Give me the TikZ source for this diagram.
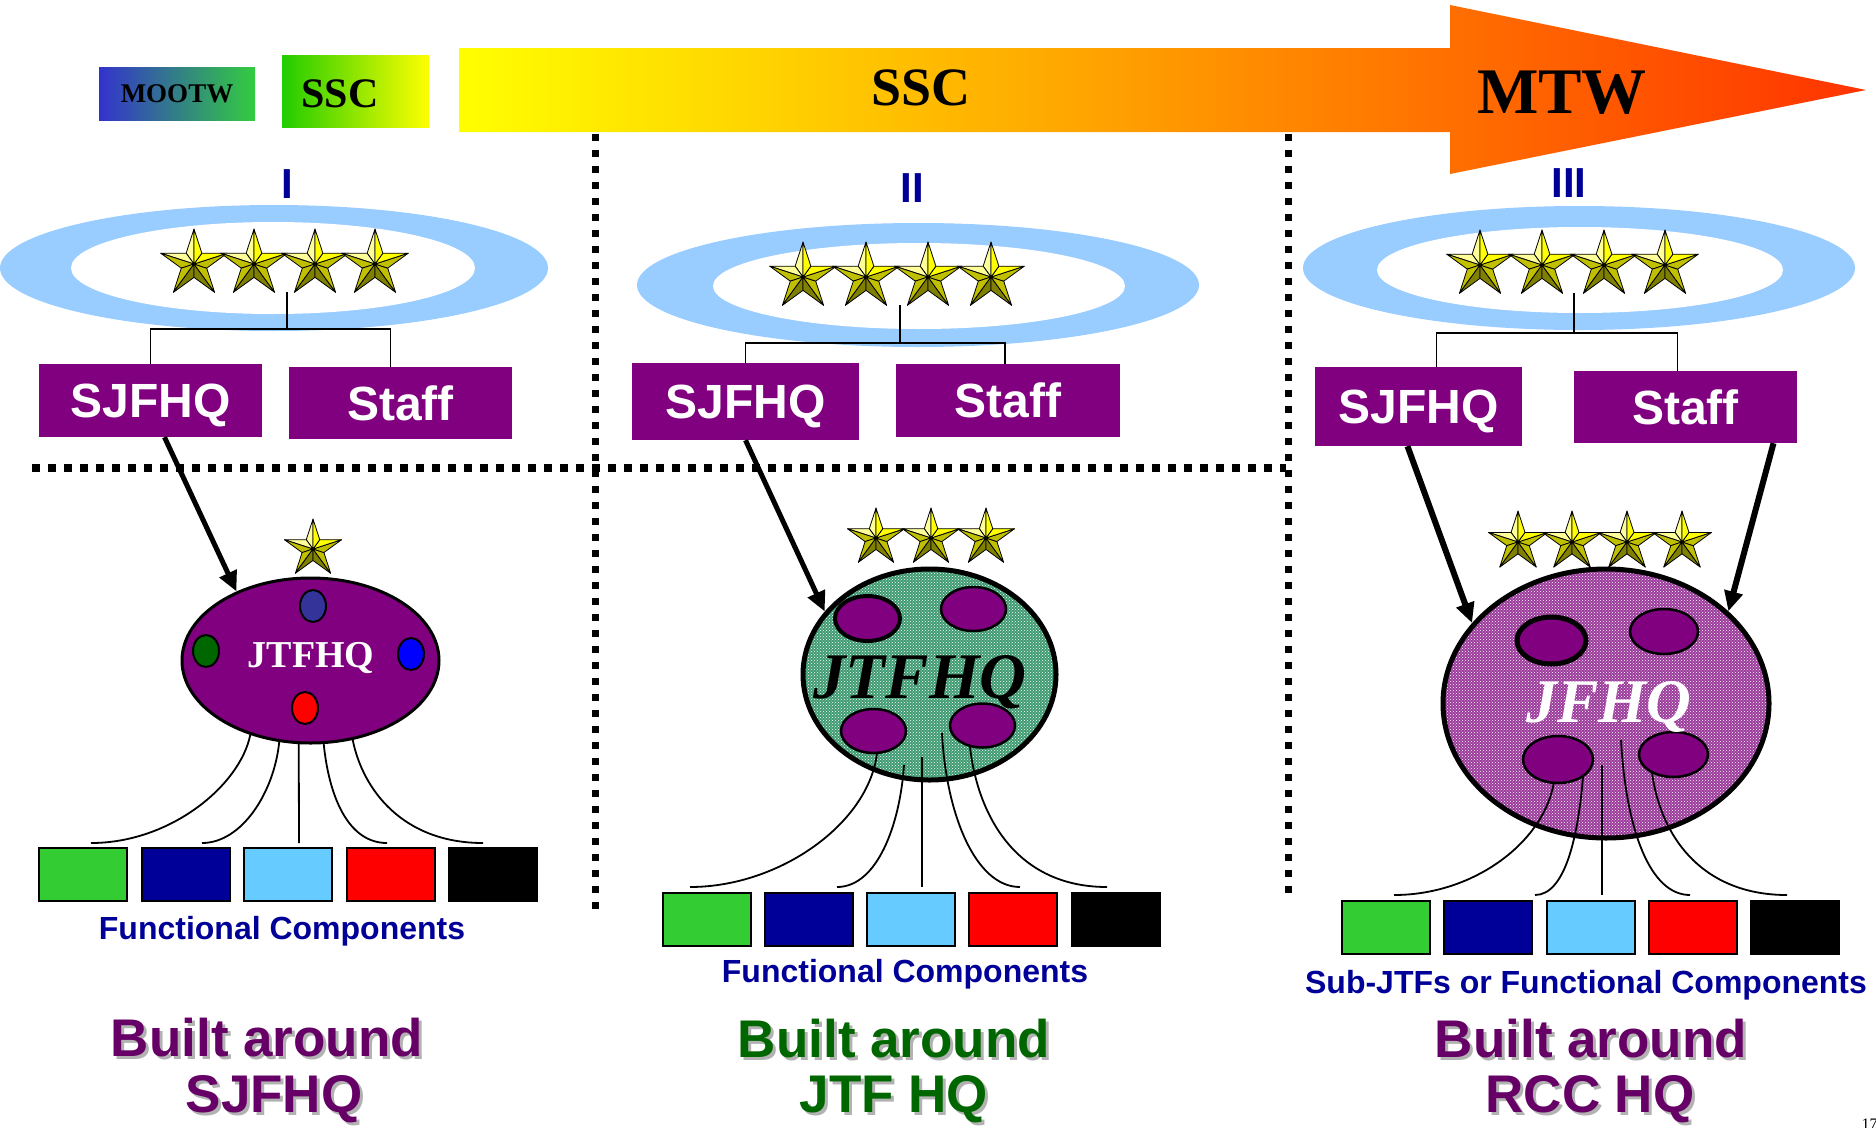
\documentclass[tikz,border=0pt]{standalone}
\usepackage{fontspec}
\setmainfont{Liberation Sans}
\newfontfamily\tms{Liberation Serif}
\usetikzlibrary{shapes.geometric,arrows.meta,calc,patterns}

\definecolor{hqpurple}{HTML}{800080}
\definecolor{ringblue}{HTML}{99CCFF}
\definecolor{navy}{HTML}{000099}
\definecolor{titlepurple}{HTML}{660066}
\definecolor{titlegreen}{HTML}{006600}
\definecolor{fcgreen}{HTML}{33CC33}
\definecolor{fcblue}{HTML}{000099}
\definecolor{fcsky}{HTML}{66CCFF}
\definecolor{fcred}{HTML}{FF0000}
\definecolor{cellnavy}{HTML}{333399}
\definecolor{cellgreen}{HTML}{006600}
\definecolor{cellblue}{HTML}{0000FF}
\definecolor{texgreen}{HTML}{3E9A70}
\definecolor{texpurple}{HTML}{9A3A9A}
\definecolor{mootwblue}{HTML}{3333CC}
\definecolor{mootwgreen}{HTML}{33CC40}
\definecolor{sscgreen}{HTML}{22CC00}
\definecolor{arrowY}{HTML}{FFFF00}
\definecolor{arrowO}{HTML}{FFB400}
\definecolor{arrowR}{HTML}{FF3300}
\definecolor{sA}{HTML}{FFFF99}
\definecolor{sB}{HTML}{FFFF00}
\definecolor{sC}{HTML}{C0C000}
\definecolor{sD}{HTML}{808000}

% bevelled gold star: centre x, centre y, outer radius
\newcommand\goldstar[3]{%
  \foreach \k/\shadecol/\ra/\rb in {0/sA/1/0.382,1/sA/0.382/1,2/sC/1/0.382,3/sC/0.382/1,4/sD/1/0.382,5/sD/0.382/1,6/sC/1/0.382,7/sC/0.382/1,8/sB/1/0.382,9/sB/0.382/1}{%
    \filldraw[fill=\shadecol, draw=black, line width=0.8pt, line join=round]
      (#1,#2) -- ({#1+#3*\ra*cos(90+36*\k)},{#2-#3*\ra*sin(90+36*\k)})
      -- ({#1+#3*\rb*cos(126+36*\k)},{#2-#3*\rb*sin(126+36*\k)}) -- cycle;
  }}

\begin{document}
\begin{tikzpicture}[x=1pt,y=-1pt,
  hqbox/.style={fill=hqpurple, text=white, inner sep=0pt, text height=34pt, text depth=0pt,
                font=\fontsize{48}{48}\selectfont\bfseries},
  halo/.style={ellipse, fill=ringblue, inner sep=0pt},
  halohole/.style={ellipse, fill=white, inner sep=0pt},
  orgline/.style={line width=1.8pt},
  spokeline/.style={line width=1.8pt},
  assignarrow/.style={line width=5pt, -{Triangle[length=20pt,width=18pt]}},
  fcbox/.style={draw=black, line width=2pt, minimum width=88pt, minimum height=53pt, inner sep=0pt},
  fclabel/.style={text=navy, anchor=base, font=\fontsize{32}{32}\selectfont\bfseries},
  numeral/.style={text=navy, anchor=base, font=\fontsize{42}{42}\selectfont\bfseries},
  headline/.style={anchor=base, inner sep=0pt, text depth=0pt, font=\fontsize{53}{53}\selectfont\bfseries},
  hdshadow/.style={headline, text=black!30},
  dotline/.style={line width=8pt, dash pattern=on 8pt off 8pt},
  vdotline/.style={line width=7pt, dash pattern=on 7pt off 9pt},
  cell/.style={ellipse, draw=black, inner sep=0pt, fill=hqpurple, line width=2.5pt},
  hqoval/.style={ellipse, draw=black, inner sep=0pt},
]
\useasboundingbox (0,0) rectangle (1876,1127);
\fill[white] (0,0) rectangle (1876,1127);

% ---------- phase banner ----------
\node[left color=mootwblue, right color=mootwgreen, minimum width=156pt, minimum height=53pt,
      inner sep=0pt, font=\fontsize{27}{27}\selectfont\tms\bfseries] (mootw) at (177,93.5) {MOOTW};
\node[left color=sscgreen, right color=arrowY, minimum width=147pt, minimum height=72pt,
      inner sep=0pt] (sscbox) at (355.5,91) {};
\node[anchor=base, font=\fontsize{42}{42}\selectfont\tms\bfseries] (ssclbl) at (340,107) {SSC};
\shade[left color=arrowY, middle color=arrowO, right color=arrowR]
  (459,48) -- (1450,48) -- (1450,5) -- (1866,90) -- (1450,174) -- (1450,132) -- (459,132) -- cycle;
\node[anchor=base, font=\fontsize{54}{54}\selectfont\tms\bfseries] (sscphase) at (921,105) {SSC};
\node[anchor=base, font=\fontsize{65}{65}\selectfont\tms\bfseries] (mtw) at (1562,113) {MTW};

% ---------- separators ----------
\draw[dotline] (32,468) -- (1286,468);
\draw[vdotline] (595,134) -- (595,913);
\draw[vdotline] (1288,134) -- (1288,900);

% ---------- numerals ----------
\node[numeral] (n1) at (287,198) {I};
\node[numeral] (n2) at (912,202) {II};
\node[numeral] (n3) at (1569,197) {III};

% ---------- command rings ----------
\node[halo, minimum width=548pt, minimum height=126pt] (ring1) at (274,268) {};
\node[halohole, minimum width=404pt, minimum height=92pt] (hole1) at (273,268) {};
\node[halo, minimum width=562pt, minimum height=124pt] (ring2) at (918,285) {};
\node[halohole, minimum width=412pt, minimum height=86pt] (hole2) at (919,286) {};
\node[halo, minimum width=552pt, minimum height=124pt] (ring3) at (1579,268) {};
\node[halohole, minimum width=406pt, minimum height=86pt] (hole3) at (1580,270) {};

% ---------- HQ / staff boxes ----------
\node[hqbox, minimum width=223pt, minimum height=73pt] (sj1) at (150.5,400.5) {SJFHQ};
\node[hqbox, minimum width=223pt, minimum height=72pt] (st1) at (400.5,403) {Staff};
\node[hqbox, minimum width=227pt, minimum height=77pt] (sj2) at (745.5,401.5) {SJFHQ};
\node[hqbox, minimum width=224pt, minimum height=73pt] (st2) at (1008,400.5) {Staff};
\node[hqbox, minimum width=207pt, minimum height=79pt] (sj3) at (1418.5,406.5) {SJFHQ};
\node[hqbox, minimum width=223pt, minimum height=72pt] (st3) at (1685.5,407) {Staff};

% ---------- org trees ----------
\coordinate (tr1) at (287,292);  \coordinate (bar1) at (287,329);
\draw[orgline] (tr1) -- (bar1) -| (sj1.north);
\draw[orgline] (bar1) -| ($(st1.north)+(-10,0)$);
\coordinate (tr2) at (900,305);  \coordinate (bar2) at (900,343);
\draw[orgline] (tr2) -- (bar2) -| (sj2.north);
\draw[orgline] (bar2) -| ($(st2.north)+(-3,0)$);
\coordinate (tr3) at (1574,293); \coordinate (bar3) at (1574,333);
\draw[orgline] (tr3) -- (bar3) -| ($(sj3.north)+(18,0)$);
\draw[orgline] (bar3) -| ($(st3.north)+(-8,0)$);

% ---------- stars on the rings ----------
\goldstar{194}{264}{35}\goldstar{254}{264}{35}\goldstar{315}{264}{35}\goldstar{375}{264}{35}
\goldstar{803}{277}{35}\goldstar{866}{277}{35}\goldstar{928}{277}{35}\goldstar{991}{277}{35}
\goldstar{1480}{265}{35}\goldstar{1542}{265}{35}\goldstar{1604}{265}{35}\goldstar{1665}{265}{35}

% ---------- phase I headquarters ----------
\goldstar{313}{549}{30}
\node[hqoval, fill=hqpurple, line width=3pt, minimum width=257pt, minimum height=165pt] (o1) at (310.5,660.5) {};
\node[cell, fill=cellnavy, minimum width=26pt, minimum height=32pt, line width=2pt] (c11) at (313,606) {};
\node[cell, fill=cellgreen, minimum width=26pt, minimum height=32pt, line width=2pt] (c12) at (206,651) {};
\node[cell, fill=cellblue, minimum width=26pt, minimum height=32pt, line width=2pt] (c13) at (411,654) {};
\node[cell, fill=fcred, minimum width=26pt, minimum height=32pt, line width=2pt] (c14) at (305,708) {};
\node[anchor=base, text=white, font=\fontsize{38}{38}\selectfont\tms\bfseries] (o1lbl) at (311,667) {JTFHQ};

\foreach \c [count=\i] in {fcgreen,fcblue,fcsky,fcred,black}
  \node[fcbox, fill=\c] (fa\i) at ({83+102.5*(\i-1)},874.5) {};
\coordinate (ea1) at (91,843);  \coordinate (ea2) at (202,843); \coordinate (ea3) at (299,843);
\coordinate (ea4) at (387,843); \coordinate (ea5) at (483,843);
\draw[spokeline] (o1.231) .. controls +(-10,50) and +(80,0) .. (ea1);
\draw[spokeline] (o1.249) .. controls +(-5,50) and +(40,0) .. (ea2);
\draw[spokeline] (o1.262) -- (ea3);
\draw[spokeline] (o1.279) .. controls +(5,50) and +(-40,0) .. (ea4);
\draw[spokeline] (o1.298) .. controls +(10,50) and +(-80,0) .. (ea5);
\node[fclabel] (fl1) at (282,939) {Functional Components};
\draw[assignarrow] ($(sj1.south)+(14,0)$) -- (o1.137);

% ---------- phase II headquarters ----------
\goldstar{876}{538}{30}\goldstar{931}{538}{30}\goldstar{986}{538}{30}
\node[hqoval, line width=5pt, preaction={fill=texgreen}, pattern=crosshatch dots, pattern color=white,
      minimum width=253pt, minimum height=211pt] (o2) at (929.5,674.5) {};
\node[cell, line width=4pt, minimum width=65pt, minimum height=45pt] (c21) at (867.5,618.5) {};
\node[cell, minimum width=65pt, minimum height=44pt] (c22) at (973.5,609) {};
\node[cell, minimum width=65pt, minimum height=44pt] (c23) at (873.5,731) {};
\node[cell, minimum width=65pt, minimum height=44pt] (c24) at (982.5,725.5) {};
\node[anchor=base, font=\fontsize{65}{65}\selectfont\tms\bfseries\itshape] (o2lbl) at (920,698) {JTFHQ};

\foreach \c [count=\i] in {fcgreen,fcblue,fcsky,fcred,black}
  \node[fcbox, fill=\c] (fb\i) at ({706.5+102.25*(\i-1)},919.5) {};
\coordinate (sb1) at (877,753);  \coordinate (sb2) at (904,765); \coordinate (sb3) at (922,757);
\coordinate (sb4) at (942,733);  \coordinate (sb5) at (970,747);
\coordinate (eb1) at (690,887);  \coordinate (eb2) at (837,887); \coordinate (eb3) at (922,887);
\coordinate (eb4) at (1020,887); \coordinate (eb5) at (1107,887);
\draw[spokeline] (sb1) .. controls +(-8,70) and +(90,0) .. (eb1);
\draw[spokeline] (sb2) .. controls +(-4,60) and +(40,0) .. (eb2);
\draw[spokeline] (sb3) -- (eb3);
\draw[spokeline] (sb4) .. controls +(4,80) and +(-45,0) .. (eb4);
\draw[spokeline] (sb5) .. controls +(8,70) and +(-90,0) .. (eb5);
\node[fclabel] (fl2) at (905,982) {Functional Components};
\draw[assignarrow] (sj2.south) -- (o2.149);

% ---------- phase III headquarters ----------
\goldstar{1518}{542}{31}\goldstar{1572}{542}{31}\goldstar{1627}{542}{31}\goldstar{1682}{542}{31}
\node[hqoval, line width=5pt, preaction={fill=texpurple}, pattern=crosshatch dots, pattern color=white,
      minimum width=326pt, minimum height=269pt] (o3) at (1606,703.5) {};
\node[cell, line width=5pt, minimum width=69pt, minimum height=47pt] (c31) at (1551.5,640.5) {};
\node[cell, minimum width=68pt, minimum height=45pt] (c32) at (1664,631.5) {};
\node[cell, minimum width=70pt, minimum height=47pt] (c33) at (1558,759.5) {};
\node[cell, minimum width=69pt, minimum height=45pt] (c34) at (1673.5,754.5) {};
\node[anchor=base, text=white, font=\fontsize{62}{62}\selectfont\tms\bfseries\itshape] (o3lbl) at (1609,722) {JFHQ};

\foreach \c [count=\i] in {fcgreen,fcblue,fcsky,fcred,black}
  \node[fcbox, fill=\c] (fc\i) at ({1386+102.25*(\i-1)},927.5) {};
\coordinate (sc1) at (1554,782);  \coordinate (sc2) at (1583,777); \coordinate (sc3) at (1602,765);
\coordinate (sc4) at (1621,740);  \coordinate (sc5) at (1652,773);
\coordinate (ec1) at (1394,895);  \coordinate (ec2) at (1535,895); \coordinate (ec3) at (1602,895);
\coordinate (ec4) at (1690,895);  \coordinate (ec5) at (1787,895);
\draw[spokeline] (sc1) .. controls +(-10,60) and +(80,0) .. (ec1);
\draw[spokeline] (sc2) .. controls +(-5,60) and +(30,0) .. (ec2);
\draw[spokeline] (sc3) -- (ec3);
\draw[spokeline] (sc4) .. controls +(5,90) and +(-40,0) .. (ec4);
\draw[spokeline] (sc5) .. controls +(10,70) and +(-80,0) .. (ec5);
\node[fclabel] (fl3) at (1586,993) {Sub-JTFs or Functional Components};
\draw[assignarrow, line width=6pt] ($(sj3.south)+(-11,0)$) -- (o3.149);
\draw[assignarrow, line width=6pt] ($(st3.south)+(88,0)$) -- (o3.37);

% ---------- captions ----------
\node[hdshadow] (t1as) at (270,1059) {Built around};
\node[headline, text=titlepurple] (t1a) at (267,1056) {Built around};
\node[hdshadow] (t1bs) at (277,1115) {SJFHQ};
\node[headline, text=titlepurple] (t1b) at (274,1112) {SJFHQ};
\node[hdshadow] (t2as) at (897,1060) {Built around};
\node[headline, text=titlegreen] (t2a) at (894,1057) {Built around};
\node[hdshadow] (t2bs) at (897,1115) {JTF HQ};
\node[headline, text=titlegreen] (t2b) at (894,1112) {JTF HQ};
\node[hdshadow] (t3as) at (1594,1060) {Built around};
\node[headline, text=titlepurple] (t3a) at (1591,1057) {Built around};
\node[hdshadow] (t3bs) at (1593,1115) {RCC HQ};
\node[headline, text=titlepurple] (t3b) at (1590,1112) {RCC HQ};

\node[anchor=base west, font=\fontsize{16}{16}\selectfont\tms] (pageno) at (1858,1129) {17};
\end{tikzpicture}
\end{document}
